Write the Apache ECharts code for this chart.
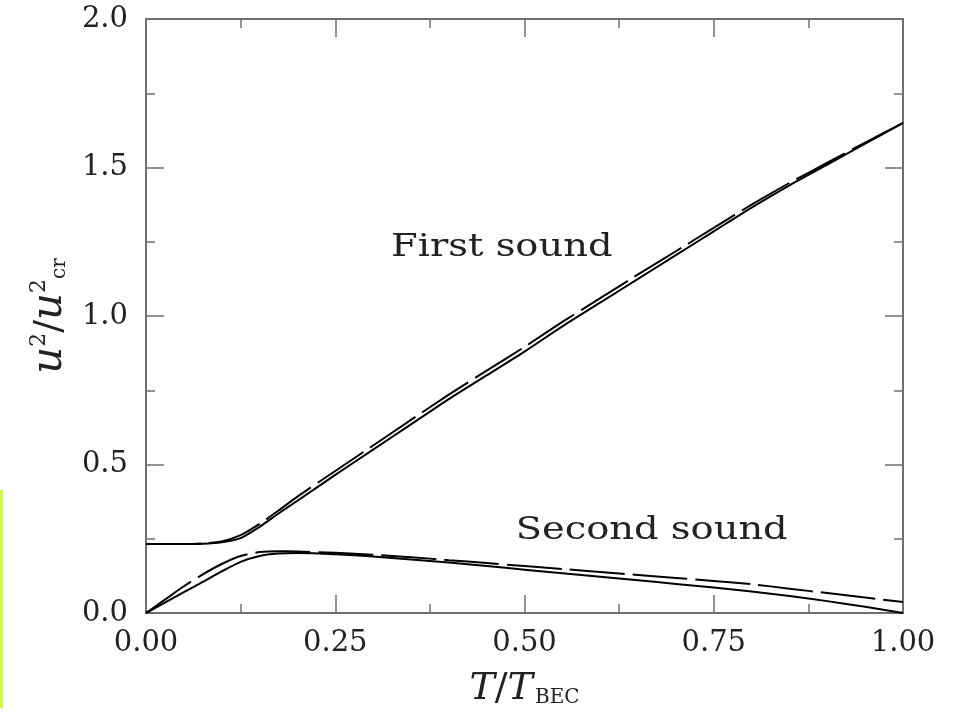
<!DOCTYPE html>
<html>
<head>
<meta charset="utf-8">
<script src="https://cdn.jsdelivr.net/npm/echarts@6/dist/echarts.min.js"></script>
<style>
  html, body { margin: 0; padding: 0; background: #fff; }
  #chart { width: 953px; height: 713px; }
</style>
</head>
<body>
<div id="chart"></div>
<script>
// T / T_BEC sample points
const T = [0, 0.025, 0.05, 0.075, 0.1, 0.125, 0.15, 0.175, 0.2, 0.25, 0.3, 0.35, 0.4,
  0.45, 0.5, 0.55, 0.6, 0.65, 0.7, 0.75, 0.8, 0.85, 0.9, 0.95, 1.0]

const firstSolid = [0.232, 0.232, 0.232, 0.233, 0.238, 0.252, 0.29, 0.335, 0.378, 0.465, 0.55,
  0.635, 0.72, 0.80, 0.88, 0.965, 1.045, 1.125, 1.205, 1.285, 1.365, 1.44, 1.51, 1.58, 1.65]
const firstDashed = [0.232, 0.232, 0.232, 0.234, 0.241, 0.262, 0.300, 0.345, 0.392, 0.478, 0.564,
  0.65, 0.735, 0.816, 0.896, 0.98, 1.06, 1.14, 1.218, 1.297, 1.375, 1.448, 1.516, 1.584, 1.65]
const secondSolid = [0, 0.035, 0.07, 0.105, 0.14, 0.172, 0.192, 0.2, 0.202, 0.198, 0.19, 0.18,
  0.17, 0.158, 0.146, 0.134, 0.122, 0.11, 0.098, 0.086, 0.072, 0.057, 0.04, 0.021, 0.0]
const secondDashed = [0, 0.045, 0.09, 0.13, 0.165, 0.192, 0.205, 0.208, 0.207, 0.203, 0.196,
  0.188, 0.178, 0.168, 0.158, 0.148, 0.138, 0.128, 0.118, 0.108, 0.097, 0.082, 0.067, 0.052, 0.037]

const xTicks = [0, 0.25, 0.5, 0.75, 1.0]
const yTicks = [0, 0.5, 1.0, 1.5, 2.0]

// text annotations in data coordinates (centre of text)
const annotations = [
  { text: 'First sound', x: 0.47, y: 1.229 },
  { text: 'Second sound', x: 0.668, y: 0.276 }
]

const FONT = 'DejaVu Serif'
const AXIS_COLOR = '#707070'

const pairs = (ys) => T.map((t, i) => [t, ys[i]])

const axisCommon = {
  type: 'value',
  axisLine: { show: true, onZero: false, lineStyle: { color: AXIS_COLOR, width: 2 } },
  axisTick: { show: true, inside: true, length: 18, lineStyle: { color: AXIS_COLOR, width: 1.5 } },
  minorTick: { show: true, splitNumber: 2, length: 9, lineStyle: { color: AXIS_COLOR, width: 1.5 } },
  splitLine: { show: false },
  minorSplitLine: { show: false }
}

const chart = echarts.init(document.getElementById('chart'))

const lineSeries = (name, ys, dashed) => ({
  name,
  type: 'line',
  data: pairs(ys),
  xAxisIndex: 0,
  yAxisIndex: 0,
  showSymbol: false,
  smooth: 0.2,
  silent: true,
  lineStyle: {
    color: '#000',
    width: 2,
    type: dashed ? [55, 8] : 'solid'
  }
})

chart.setOption({
  animation: false,
  backgroundColor: '#fff',
  grid: { left: 146, right: 50, top: 19, bottom: 100, containLabel: false, outerBoundsMode: 'none' },
  xAxis: [
    {
      ...axisCommon,
      position: 'bottom',
      min: xTicks[0],
      max: xTicks[xTicks.length - 1],
      interval: 0.25,
      axisLabel: {
        color: '#222',
        fontFamily: FONT,
        fontSize: 29,
        margin: 16,
        formatter: (v) => v.toFixed(2)
      },
      name: '{it|T}{n|/}{it|T}{sub|BEC}',
      nameLocation: 'middle',
      nameGap: 57,
      nameTextStyle: {
        rich: {
          it: { fontFamily: FONT, fontStyle: 'italic', fontSize: 38, color: '#222' },
          n: { fontFamily: FONT, fontSize: 38, color: '#222' },
          sub: { fontFamily: FONT, fontSize: 20, color: '#222', padding: [18, 0, 0, 2] }
        }
      }
    },
    {
      ...axisCommon,
      position: 'top',
      min: xTicks[0],
      max: xTicks[xTicks.length - 1],
      interval: 0.25,
      axisLabel: { show: false }
    }
  ],
  yAxis: [
    {
      ...axisCommon,
      position: 'left',
      min: yTicks[0],
      max: yTicks[yTicks.length - 1],
      interval: 0.5,
      axisLabel: {
        color: '#222',
        fontFamily: FONT,
        fontSize: 29,
        margin: 18,
        formatter: (v) => v.toFixed(1)
      },
      name: '{it|u}{sup|2}{n|/}{it|u}{sup|2}{sub|cr}',
      nameLocation: 'middle',
      nameRotate: 90,
      nameGap: 74,
      nameTextStyle: {
        rich: {
          it: { fontFamily: FONT, fontStyle: 'italic', fontSize: 42, color: '#222' },
          n: { fontFamily: FONT, fontSize: 38, color: '#222' },
          sup: { fontFamily: FONT, fontSize: 22, color: '#222', padding: [0, 0, 22, 0] },
          sub: { fontFamily: FONT, fontSize: 20, color: '#222', padding: [20, 0, 0, 0] }
        }
      }
    },
    {
      ...axisCommon,
      position: 'right',
      min: yTicks[0],
      max: yTicks[yTicks.length - 1],
      interval: 0.5,
      axisLabel: { show: false }
    }
  ],
  series: [
    lineSeries('First sound', firstSolid, false),
    lineSeries('First sound (dashed)', firstDashed, true),
    lineSeries('Second sound', secondSolid, false),
    lineSeries('Second sound (dashed)', secondDashed, true)
  ]
})

const graphics = annotations.map((a) => {
  const [px, py] = chart.convertToPixel({ xAxisIndex: 0, yAxisIndex: 0 }, [a.x, a.y])
  return {
    type: 'text',
    x: px,
    y: py,
    scaleX: 1.2,
    style: {
      text: a.text,
      fontFamily: FONT,
      fontSize: 32,
      fill: '#222',
      align: 'center',
      verticalAlign: 'middle'
    }
  }
})

// thin green strip at the left edge of the original image
graphics.push({
  type: 'rect',
  shape: { x: 0, y: 490, width: 3, height: 218 },
  style: { fill: '#ccff33' }
})

chart.setOption({ graphic: graphics })

window.addEventListener('resize', () => {
  chart?.resize()
})
</script>
</body>
</html>
